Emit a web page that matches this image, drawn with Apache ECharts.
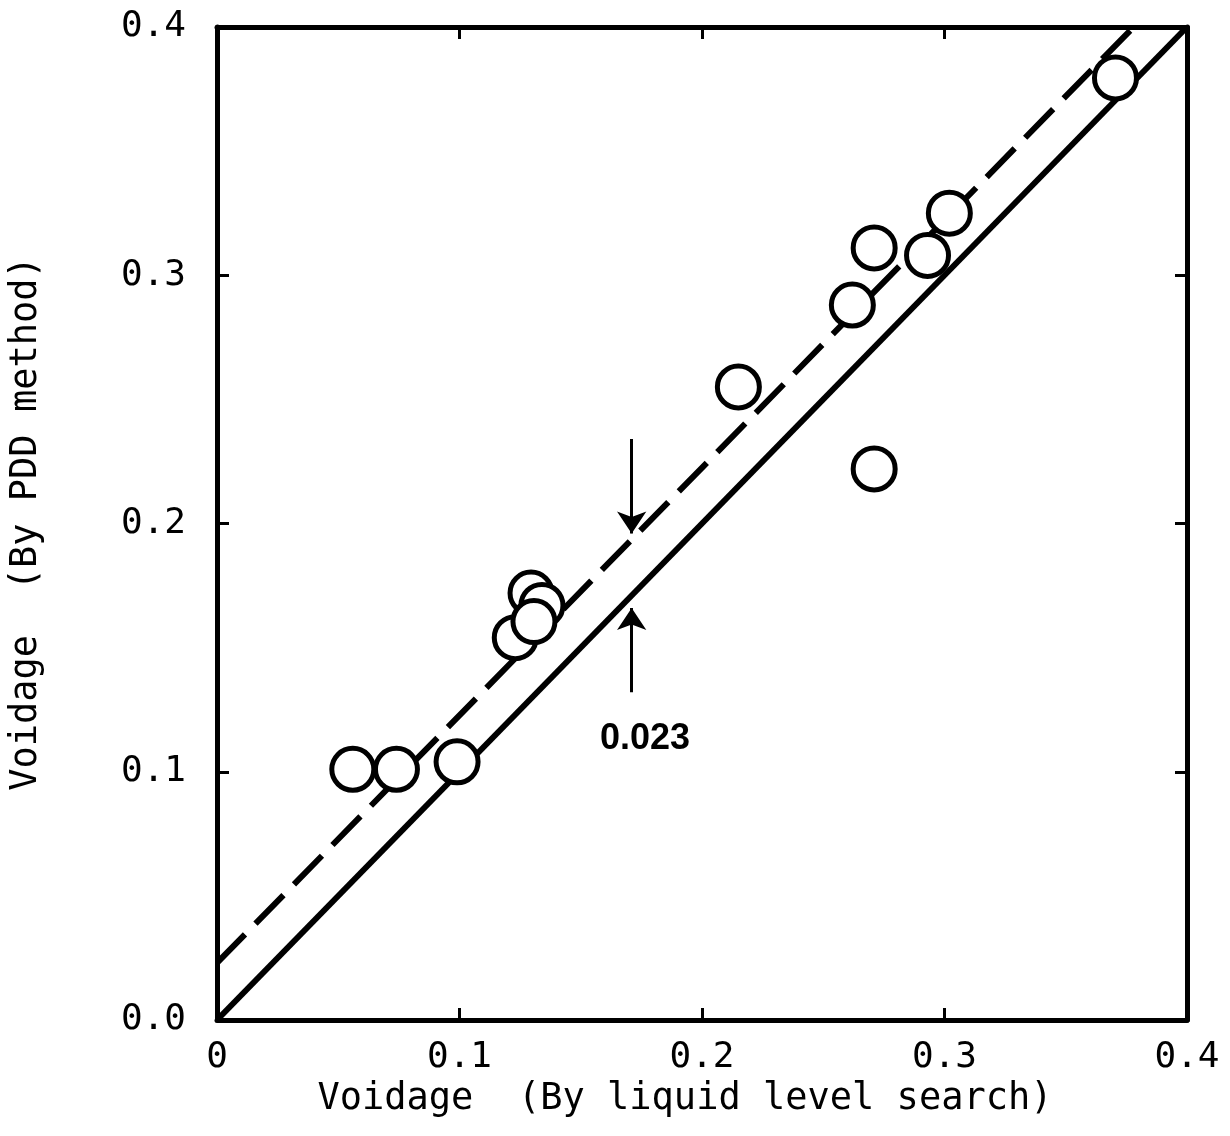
<!DOCTYPE html>
<html>
<head>
<meta charset="utf-8">
<script src="https://cdn.jsdelivr.net/npm/echarts@6/dist/echarts.min.js"></script>
<style>html,body{margin:0;padding:0;background:#fff}#c{width:1230px;height:1136px}</style>
</head>
<body>
<div id="c"></div>
<script>
// Data
const xTickLabels = ['0', '0.1', '0.2', '0.3', '0.4'];
const yTickLabels = ['0.0', '0.1', '0.2', '0.3', '0.4'];
const points = [
  [0.056, 0.101],
  [0.074, 0.101],
  [0.099, 0.104],
  [0.1295, 0.172],
  [0.134, 0.167],
  [0.123, 0.154],
  [0.1307, 0.1605],
  [0.215, 0.255],
  [0.262, 0.288],
  [0.271, 0.311],
  [0.271, 0.222],
  [0.293, 0.308],
  [0.302, 0.325],
  [0.3705, 0.3795]
];
const identityLine = [[0, 0], [0.4, 0.4]];
const offsetLine = [[0, 0.023], [0.378, 0.4]];
const arrowDown = [[0.171, 0.234], [0.171, 0.196]];
const arrowUp = [[0.171, 0.132], [0.171, 0.166]];
const annotation = [[0.1765, 0.113, '0.023']];

const font = 'DejaVu Sans Mono';
const axisCommon = {
  type: 'value', min: 0, max: 0.4, interval: 0.1,
  axisLine: { show: true, onZero: false, lineStyle: { color: '#000', width: 5 } },
  axisTick: { show: true, inside: true, length: 12, lineStyle: { color: '#000', width: 3 } },
  splitLine: { show: false }
};
const chart = echarts.init(document.getElementById('c'));
chart.setOption({
  animation: false,
  backgroundColor: '#fff',
  grid: { left: 208, right: 43, top: 27, bottom: 116 },
  xAxis: [
    Object.assign({}, axisCommon, {
      position: 'bottom',
      name: 'Voidage  (By liquid level search)',
      nameLocation: 'middle', nameGap: 54,
      nameTextStyle: { fontFamily: font, fontSize: 37, color: '#000', padding: [0, 34, 0, 0] },
      axisLabel: {
        margin: 20, fontFamily: font, fontSize: 36, color: '#000',
        formatter: v => xTickLabels[Math.round(v * 10)]
      }
    }),
    Object.assign({}, axisCommon, { position: 'top', axisLabel: { show: false } })
  ],
  yAxis: [
    Object.assign({}, axisCommon, {
      position: 'left',
      name: 'Voidage  (By PDD method)',
      nameLocation: 'middle', nameGap: 172,
      nameTextStyle: { fontFamily: font, fontSize: 37, color: '#000' },
      axisLabel: {
        margin: 31, fontFamily: font, fontSize: 36, color: '#000',
        formatter: v => yTickLabels[Math.round(v * 10)]
      }
    }),
    Object.assign({}, axisCommon, { position: 'right', axisLabel: { show: false } })
  ],
  series: [
    {
      type: 'line', data: identityLine, symbol: 'none', z: 2,
      lineStyle: { color: '#000', width: 6 }
    },
    {
      type: 'line', data: offsetLine, symbol: 'none', z: 2,
      lineStyle: { color: '#000', width: 6, type: [40, 15] }
    },
    {
      type: 'lines', coordinateSystem: 'cartesian2d', z: 3,
      symbol: ['none', 'arrow'], symbolSize: [11, 22],
      lineStyle: { color: '#000', width: 3, opacity: 1 },
      data: [{ coords: arrowDown }, { coords: arrowUp }]
    },
    {
      type: 'scatter', data: points, symbol: 'circle', symbolSize: 42, z: 5,
      itemStyle: { color: '#fff', borderColor: '#000', borderWidth: 5, opacity: 1 }
    },
    {
      type: 'scatter', data: annotation, symbolSize: 0, z: 6,
      itemStyle: { opacity: 1 },
      label: {
        show: true, position: 'inside', formatter: p => p.data[2],
        fontFamily: 'Liberation Sans', fontWeight: 'bold', fontSize: 36, color: '#000'
      }
    }
  ]
});
</script>
</body>
</html>
